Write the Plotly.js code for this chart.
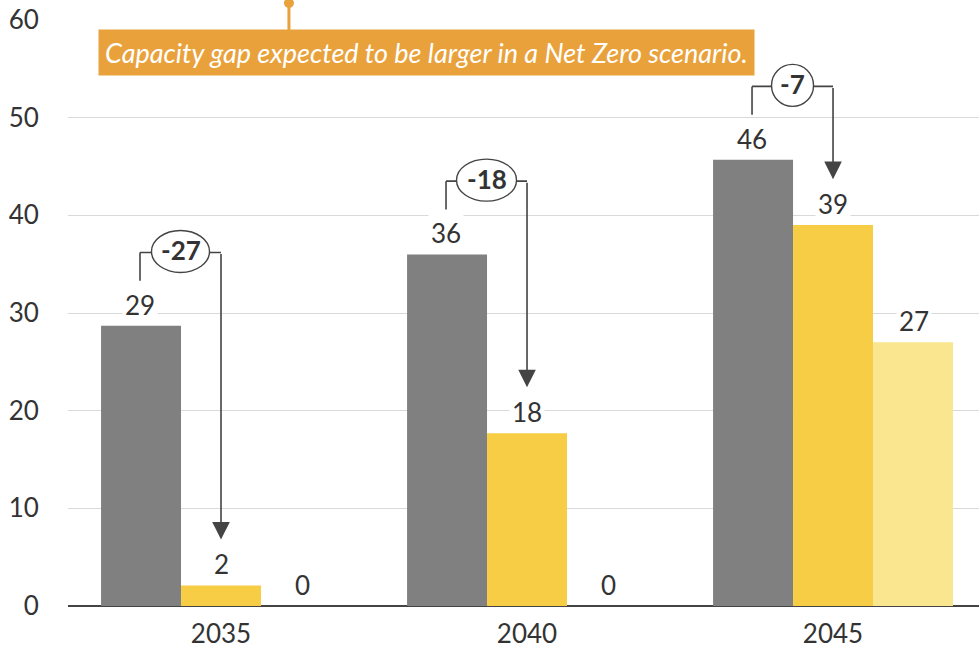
<!DOCTYPE html>
<html>
<head>
<meta charset="utf-8">
<script src="https://cdn.plot.ly/plotly-3.0.1.min.js"></script>
<style>
  html, body { margin: 0; padding: 0; background: #fff; }
  #chart { width: 979px; height: 648px; }
</style>
</head>
<body>
<div id="chart"></div>
<script>
// Data
const years = ['2035', '2040', '2045'];
const grayVals = [28.7, 36.0, 45.7];
const yellowVals = [2.1, 17.7, 39.0];
const lightVals = [0, 0, 27.0];
const grayLabels = ['29', '36', '46'];
const yellowLabels = ['2', '18', '39'];
const lightLabels = ['0', '0', '27'];
const gapLabels = ['-27', '-18', '-7'];
const gapCircleW = [58, 60, 42];
const bannerText = 'Capacity gap expected to be larger in a Net Zero scenario.';

const GRAY = '#808080';
const YELLOW = '#F7CD46';
const LIGHT = '#FAE68E';
const ORANGE = '#E9A23B';
const INK = '#333333';
const FONT = 'Lato, "Open Sans", sans-serif';

// offset of the side bars from the category centre (bar width / category step)
const off = 81 / 306;

function barTrace(vals, color) {
  return {
    type: 'bar',
    x: years.map((_, i) => i),
    y: vals,
    marker: { color: color },
    hoverinfo: 'skip',
    showlegend: false
  };
}

const data = [
  barTrace(grayVals, GRAY),
  barTrace(yellowVals, YELLOW),
  barTrace(lightVals, LIGHT)
];

const annotations = [];
const shapes = [];

// value labels above bars
function addLabels(vals, labels, dx) {
  vals.forEach((v, i) => {
    annotations.push({
      x: i + dx, y: v, xref: 'x', yref: 'y',
      text: labels[i], showarrow: false,
      yanchor: 'bottom', yshift: 2,
      bgcolor: '#ffffff', borderpad: 2,
      font: { family: FONT, size: 26, color: INK }
    });
  });
}
addLabels(grayVals, grayLabels, -off);
addLabels(yellowVals, yellowLabels, 0);
addLabels(lightVals, lightLabels, off);

// gap brackets: up from the grey bar, across, down as an arrow to the yellow bar
years.forEach((_, i) => {
  const start = grayVals[i] + 4.6;
  const top = grayVals[i] + 7.5;
  const tip = yellowVals[i] + 4.7;
  const lineStyle = { color: '#444444', width: 1.6 };
  shapes.push({ type: 'line', xref: 'x', yref: 'y', x0: i - off, x1: i - off, y0: start, y1: top, line: lineStyle });
  shapes.push({ type: 'line', xref: 'x', yref: 'y', x0: i - off, x1: i, y0: top, y1: top, line: lineStyle });
  const w = gapCircleW[i] / 2;
  shapes.push({
    type: 'circle', xref: 'x', yref: 'y',
    xsizemode: 'pixel', ysizemode: 'pixel',
    xanchor: i - off / 2, yanchor: top,
    x0: -w, x1: w, y0: -20, y1: 22,
    fillcolor: '#ffffff', line: { color: '#444444', width: 1.4 },
    layer: 'above'
  });
  annotations.push({
    x: i - off / 2, y: top, xref: 'x', yref: 'y', yshift: 2,
    text: '<b>' + gapLabels[i] + '</b>', showarrow: false,
    font: { family: FONT, size: 26, color: INK }
  });
  annotations.push({
    x: i, y: tip, xref: 'x', yref: 'y',
    ax: i, ay: top, axref: 'x', ayref: 'y',
    text: '', showarrow: true,
    arrowhead: 2, arrowsize: 2.2, arrowwidth: 1.6, arrowcolor: '#444444',
    standoff: 0, startstandoff: 0
  });
});

// orange call-out banner with its pin
shapes.push({
  type: 'line', xref: 'x', yref: 'paper',
  x0: 0.222, x1: 0.222, y0: 0.98, y1: 1.029,
  line: { color: ORANGE, width: 3 }
});
shapes.push({
  type: 'circle', xref: 'x', yref: 'paper',
  xsizemode: 'pixel', ysizemode: 'pixel',
  xanchor: 0.222, yanchor: 1.029,
  x0: -5, x1: 5, y0: -5, y1: 5,
  fillcolor: ORANGE, line: { width: 0 }
});
annotations.push({
  x: 0.673, y: 56.7, xref: 'x', yref: 'y',
  text: '<i>' + bannerText + '</i>', showarrow: false,
  bgcolor: ORANGE, borderpad: 6,
  font: { family: FONT, size: 27, color: '#ffffff' }
});

const layout = {
  width: 979,
  height: 648,
  margin: { l: 68, r: 0, t: 20, b: 42 },
  paper_bgcolor: '#ffffff',
  plot_bgcolor: '#ffffff',
  barmode: 'group',
  bargap: 0.216,
  bargroupgap: 0,
  font: { family: FONT, size: 26, color: INK },
  xaxis: {
    type: 'linear',
    range: [-0.5, 2.477],
    tickmode: 'array',
    tickvals: years.map((_, i) => i),
    ticktext: years,
    showgrid: false,
    zeroline: false,
    showline: false,
    ticks: 'outside', ticklen: 5, tickcolor: 'rgba(0,0,0,0)',
    tickfont: { family: FONT, size: 26, color: INK },
    fixedrange: true
  },
  yaxis: {
    range: [0, 60],
    tickvals: [0, 10, 20, 30, 40, 50, 60],
    showgrid: true,
    gridcolor: '#d9d9d9',
    gridwidth: 1,
    zeroline: true,
    zerolinecolor: '#444444',
    zerolinewidth: 2,
    ticks: 'outside', ticklen: 23, tickcolor: 'rgba(0,0,0,0)',
    tickfont: { family: FONT, size: 26, color: INK },
    fixedrange: true
  },
  shapes: shapes,
  annotations: annotations
};

Plotly.newPlot('chart', data, layout, { displayModeBar: false, staticPlot: true });
</script>
</body>
</html>
